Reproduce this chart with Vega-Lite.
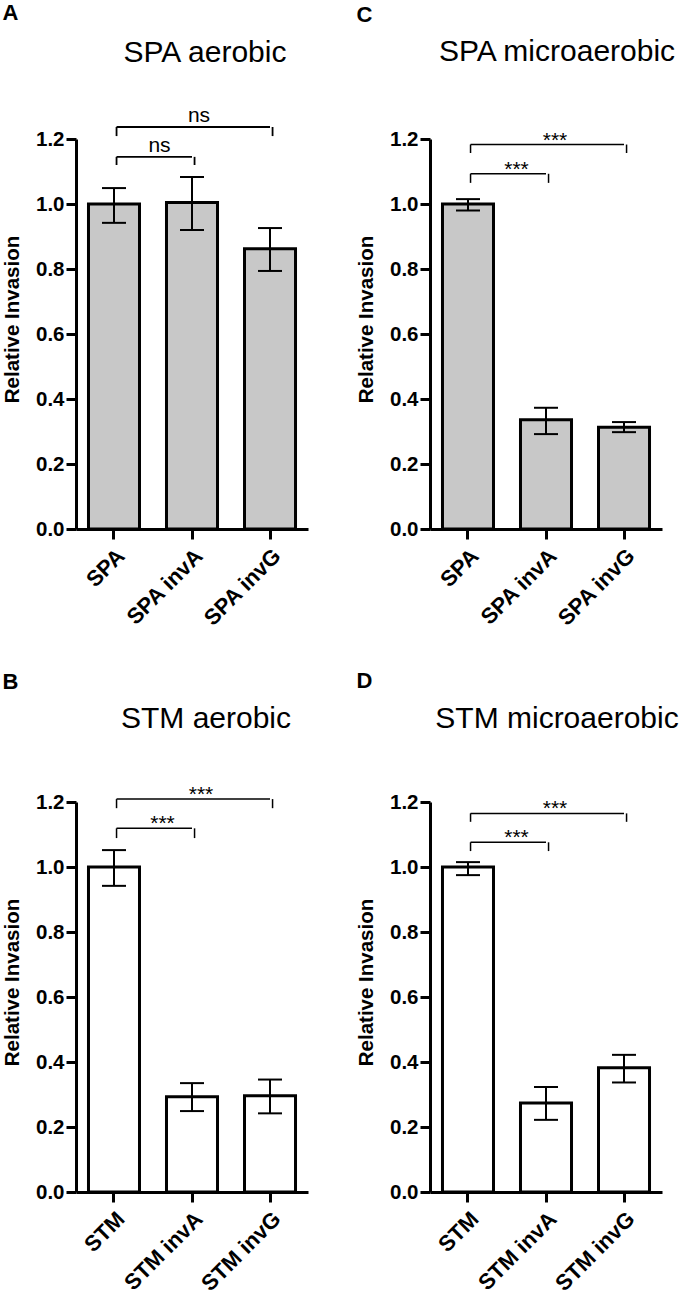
{
  "$schema": "https://vega.github.io/schema/vega-lite/v6.json",
  "padding": {"left": 2, "top": 1, "right": 0, "bottom": 0},
  "background": "white",
  "config": {
    "view": {"stroke": null},
    "font": "Liberation Sans",
    "axis": {"grid": false, "domainColor": "black", "domainWidth": 3, "tickColor": "black", "tickWidth": 3, "tickSize": 10, "labelColor": "black", "labelFont": "Liberation Sans", "labelFontWeight": "bold", "labelFontSize": 20.5, "titleColor": "black", "titleFont": "Liberation Sans", "titleFontWeight": "bold", "titleFontSize": 20.5},
    "axisX": {"labelFontSize": 22, "labelAngle": -45, "labelPadding": 6},
    "axisY": {"labelPadding": 2, "titlePadding": 13, "titleY": 180},
    "title": {"font": "Liberation Sans", "color": "black"}
  },
  "datasets": {
    "A": [
      {"strain": "SPA", "mean": 1.0, "lo": 0.942, "hi": 1.049},
      {"strain": "SPA invA", "mean": 1.005, "lo": 0.92, "hi": 1.083},
      {"strain": "SPA invG", "mean": 0.862, "lo": 0.794, "hi": 0.926}
    ],
    "A_br": [
      {"from": "SPA", "to": "SPA invA", "mid": "SPA invA", "y": 1.145, "yend": 1.12, "label": "ns", "pos": "low"},
      {"from": "SPA", "to": "SPA invG", "mid": "SPA invA", "y": 1.237, "yend": 1.209, "label": "ns", "pos": "high"}
    ],
    "C": [
      {"strain": "SPA", "mean": 1.0, "lo": 0.98, "hi": 1.015},
      {"strain": "SPA invA", "mean": 0.336, "lo": 0.292, "hi": 0.373},
      {"strain": "SPA invG", "mean": 0.313, "lo": 0.298, "hi": 0.329}
    ],
    "C_br": [
      {"from": "SPA", "to": "SPA invA", "mid": "SPA invA", "y": 1.093, "yend": 1.065, "label": "***", "pos": "low"},
      {"from": "SPA", "to": "SPA invG", "mid": "SPA invA", "y": 1.183, "yend": 1.157, "label": "***", "pos": "high"}
    ],
    "B": [
      {"strain": "STM", "mean": 1.0, "lo": 0.942, "hi": 1.052},
      {"strain": "STM invA", "mean": 0.293, "lo": 0.249, "hi": 0.335},
      {"strain": "STM invG", "mean": 0.296, "lo": 0.242, "hi": 0.346}
    ],
    "B_br": [
      {"from": "STM", "to": "STM invA", "mid": "STM invA", "y": 1.119, "yend": 1.089, "label": "***", "pos": "low"},
      {"from": "STM", "to": "STM invG", "mid": "STM invA", "y": 1.209, "yend": 1.181, "label": "***", "pos": "high"}
    ],
    "D": [
      {"strain": "STM", "mean": 1.0, "lo": 0.975, "hi": 1.015},
      {"strain": "STM invA", "mean": 0.274, "lo": 0.222, "hi": 0.323},
      {"strain": "STM invG", "mean": 0.382, "lo": 0.337, "hi": 0.422}
    ],
    "D_br": [
      {"from": "STM", "to": "STM invA", "mid": "STM invA", "y": 1.076, "yend": 1.049, "label": "***", "pos": "low"},
      {"from": "STM", "to": "STM invG", "mid": "STM invA", "y": 1.165, "yend": 1.139, "label": "***", "pos": "high"}
    ]
  },
  "vconcat": [
    {
      "hconcat": [
        {
          "title": {"text": "A", "anchor": "start", "fontSize": 22, "fontWeight": "bold", "offset": 13},
          "vconcat": [
            {
              "width": 232, "height": 390,
              "title": {"text": "SPA aerobic", "fontSize": 30, "fontWeight": "normal", "anchor": "middle", "frame": "group", "offset": 37, "dx": 13},
              "layer": [
                {"data": {"name": "A"}, "mark": {"type": "bar", "fill": "#c8c8c8", "stroke": "black", "strokeWidth": 3},
                 "encoding": {
                   "x": {"field": "strain", "type": "nominal", "sort": null, "title": null, "scale": {"paddingInner": 0.346, "paddingOuter": 0.16}},
                   "y": {"field": "mean", "type": "quantitative", "title": "Relative Invasion", "scale": {"domain": [0, 1.2], "nice": false}, "axis": {"values": [0, 0.2, 0.4, 0.6, 0.8, 1.0, 1.2], "format": ".1f"}}
                 }},
                {"data": {"name": "A"}, "mark": {"type": "rule", "color": "black", "strokeWidth": 2},
                 "encoding": {"x": {"field": "strain", "type": "nominal", "sort": null}, "y": {"field": "lo", "type": "quantitative"}, "y2": {"field": "hi"}}},
                {"data": {"name": "A"}, "mark": {"type": "tick", "color": "black", "size": 24, "thickness": 2, "opacity": 1},
                 "encoding": {"x": {"field": "strain", "type": "nominal", "sort": null}, "y": {"field": "lo", "type": "quantitative"}}},
                {"data": {"name": "A"}, "mark": {"type": "tick", "color": "black", "size": 24, "thickness": 2, "opacity": 1},
                 "encoding": {"x": {"field": "strain", "type": "nominal", "sort": null}, "y": {"field": "hi", "type": "quantitative"}}},
                {"data": {"name": "A_br"}, "mark": {"type": "rule", "color": "black", "strokeWidth": 1.8},
                 "encoding": {"x": {"field": "from", "type": "nominal", "sort": null, "bandPosition": 0.55}, "x2": {"field": "to"}, "y": {"field": "y", "type": "quantitative"}}},
                {"data": {"name": "A_br"}, "mark": {"type": "rule", "color": "black", "strokeWidth": 1.8},
                 "encoding": {"x": {"field": "from", "type": "nominal", "sort": null, "bandPosition": 0.55}, "y": {"field": "y", "type": "quantitative"}, "y2": {"field": "yend"}}},
                {"data": {"name": "A_br"}, "mark": {"type": "rule", "color": "black", "strokeWidth": 1.8},
                 "encoding": {"x": {"field": "to", "type": "nominal", "sort": null, "bandPosition": 0.55}, "y": {"field": "y", "type": "quantitative"}, "y2": {"field": "yend"}}},
                {"data": {"name": "A_br"}, "transform": [{"filter": "datum.pos === 'high'"}], "mark": {"type": "text", "fontSize": 21, "baseline": "alphabetic", "dy": -5, "dx": 7, "color": "black"},
                 "encoding": {"x": {"field": "mid", "type": "nominal", "sort": null, "bandPosition": 0.5}, "y": {"field": "y", "type": "quantitative"}, "text": {"field": "label"}}},
                {"data": {"name": "A_br"}, "transform": [{"filter": "datum.pos === 'low'"}], "mark": {"type": "text", "fontSize": 21, "baseline": "alphabetic", "dy": -5, "dx": -7, "color": "black"},
                 "encoding": {"x": {"field": "mid", "type": "nominal", "sort": null, "bandPosition": 0}, "y": {"field": "y", "type": "quantitative"}, "text": {"field": "label"}}}
              ]
            }
          ]
        },
        {
          "title": {"text": "C", "anchor": "start", "fontSize": 22, "fontWeight": "bold", "offset": 10},
          "vconcat": [
            {
              "width": 232, "height": 390,
              "title": {"text": "SPA microaerobic", "fontSize": 30, "fontWeight": "normal", "anchor": "middle", "frame": "group", "offset": 62, "dx": 11},
              "layer": [
                {"data": {"name": "C"}, "mark": {"type": "bar", "fill": "#c8c8c8", "stroke": "black", "strokeWidth": 3},
                 "encoding": {
                   "x": {"field": "strain", "type": "nominal", "sort": null, "title": null, "scale": {"paddingInner": 0.346, "paddingOuter": 0.16}},
                   "y": {"field": "mean", "type": "quantitative", "title": "Relative Invasion", "scale": {"domain": [0, 1.2], "nice": false}, "axis": {"values": [0, 0.2, 0.4, 0.6, 0.8, 1.0, 1.2], "format": ".1f"}}
                 }},
                {"data": {"name": "C"}, "mark": {"type": "rule", "color": "black", "strokeWidth": 2},
                 "encoding": {"x": {"field": "strain", "type": "nominal", "sort": null}, "y": {"field": "lo", "type": "quantitative"}, "y2": {"field": "hi"}}},
                {"data": {"name": "C"}, "mark": {"type": "tick", "color": "black", "size": 24, "thickness": 2, "opacity": 1},
                 "encoding": {"x": {"field": "strain", "type": "nominal", "sort": null}, "y": {"field": "lo", "type": "quantitative"}}},
                {"data": {"name": "C"}, "mark": {"type": "tick", "color": "black", "size": 24, "thickness": 2, "opacity": 1},
                 "encoding": {"x": {"field": "strain", "type": "nominal", "sort": null}, "y": {"field": "hi", "type": "quantitative"}}},
                {"data": {"name": "C_br"}, "mark": {"type": "rule", "color": "black", "strokeWidth": 1.5},
                 "encoding": {"x": {"field": "from", "type": "nominal", "sort": null, "bandPosition": 0.55}, "x2": {"field": "to"}, "y": {"field": "y", "type": "quantitative"}}},
                {"data": {"name": "C_br"}, "mark": {"type": "rule", "color": "black", "strokeWidth": 1.5},
                 "encoding": {"x": {"field": "from", "type": "nominal", "sort": null, "bandPosition": 0.55}, "y": {"field": "y", "type": "quantitative"}, "y2": {"field": "yend"}}},
                {"data": {"name": "C_br"}, "mark": {"type": "rule", "color": "black", "strokeWidth": 1.5},
                 "encoding": {"x": {"field": "to", "type": "nominal", "sort": null, "bandPosition": 0.55}, "y": {"field": "y", "type": "quantitative"}, "y2": {"field": "yend"}}},
                {"data": {"name": "C_br"}, "transform": [{"filter": "datum.pos === 'high'"}], "mark": {"type": "text", "fontSize": 21, "baseline": "alphabetic", "dy": 2, "dx": 9, "color": "black"},
                 "encoding": {"x": {"field": "mid", "type": "nominal", "sort": null, "bandPosition": 0.5}, "y": {"field": "y", "type": "quantitative"}, "text": {"field": "label"}}},
                {"data": {"name": "C_br"}, "transform": [{"filter": "datum.pos === 'low'"}], "mark": {"type": "text", "fontSize": 21, "baseline": "alphabetic", "dy": 2, "dx": -4, "color": "black"},
                 "encoding": {"x": {"field": "mid", "type": "nominal", "sort": null, "bandPosition": 0}, "y": {"field": "y", "type": "quantitative"}, "text": {"field": "label"}}}
              ]
            }
          ]
        }
      ],
      "spacing": 48
    },
    {
      "hconcat": [
        {
          "title": {"text": "B", "anchor": "start", "fontSize": 22, "fontWeight": "bold", "offset": 10},
          "vconcat": [
            {
              "width": 232, "height": 390,
              "title": {"text": "STM aerobic", "fontSize": 30, "fontWeight": "normal", "anchor": "middle", "frame": "group", "offset": 50, "dx": 14},
              "layer": [
                {"data": {"name": "B"}, "mark": {"type": "bar", "fill": "white", "stroke": "black", "strokeWidth": 3},
                 "encoding": {
                   "x": {"field": "strain", "type": "nominal", "sort": null, "title": null, "scale": {"paddingInner": 0.346, "paddingOuter": 0.16}},
                   "y": {"field": "mean", "type": "quantitative", "title": "Relative Invasion", "scale": {"domain": [0, 1.2], "nice": false}, "axis": {"values": [0, 0.2, 0.4, 0.6, 0.8, 1.0, 1.2], "format": ".1f"}}
                 }},
                {"data": {"name": "B"}, "mark": {"type": "rule", "color": "black", "strokeWidth": 2},
                 "encoding": {"x": {"field": "strain", "type": "nominal", "sort": null}, "y": {"field": "lo", "type": "quantitative"}, "y2": {"field": "hi"}}},
                {"data": {"name": "B"}, "mark": {"type": "tick", "color": "black", "size": 24, "thickness": 2, "opacity": 1},
                 "encoding": {"x": {"field": "strain", "type": "nominal", "sort": null}, "y": {"field": "lo", "type": "quantitative"}}},
                {"data": {"name": "B"}, "mark": {"type": "tick", "color": "black", "size": 24, "thickness": 2, "opacity": 1},
                 "encoding": {"x": {"field": "strain", "type": "nominal", "sort": null}, "y": {"field": "hi", "type": "quantitative"}}},
                {"data": {"name": "B_br"}, "mark": {"type": "rule", "color": "black", "strokeWidth": 1.5},
                 "encoding": {"x": {"field": "from", "type": "nominal", "sort": null, "bandPosition": 0.55}, "x2": {"field": "to"}, "y": {"field": "y", "type": "quantitative"}}},
                {"data": {"name": "B_br"}, "mark": {"type": "rule", "color": "black", "strokeWidth": 1.5},
                 "encoding": {"x": {"field": "from", "type": "nominal", "sort": null, "bandPosition": 0.55}, "y": {"field": "y", "type": "quantitative"}, "y2": {"field": "yend"}}},
                {"data": {"name": "B_br"}, "mark": {"type": "rule", "color": "black", "strokeWidth": 1.5},
                 "encoding": {"x": {"field": "to", "type": "nominal", "sort": null, "bandPosition": 0.55}, "y": {"field": "y", "type": "quantitative"}, "y2": {"field": "yend"}}},
                {"data": {"name": "B_br"}, "transform": [{"filter": "datum.pos === 'high'"}], "mark": {"type": "text", "fontSize": 21, "baseline": "alphabetic", "dy": 2, "dx": 9, "color": "black"},
                 "encoding": {"x": {"field": "mid", "type": "nominal", "sort": null, "bandPosition": 0.5}, "y": {"field": "y", "type": "quantitative"}, "text": {"field": "label"}}},
                {"data": {"name": "B_br"}, "transform": [{"filter": "datum.pos === 'low'"}], "mark": {"type": "text", "fontSize": 21, "baseline": "alphabetic", "dy": 2, "dx": -4, "color": "black"},
                 "encoding": {"x": {"field": "mid", "type": "nominal", "sort": null, "bandPosition": 0}, "y": {"field": "y", "type": "quantitative"}, "text": {"field": "label"}}}
              ]
            }
          ]
        },
        {
          "title": {"text": "D", "anchor": "start", "fontSize": 22, "fontWeight": "bold", "offset": 11},
          "vconcat": [
            {
              "width": 232, "height": 390,
              "title": {"text": "STM microaerobic", "fontSize": 30, "fontWeight": "normal", "anchor": "middle", "frame": "group", "offset": 58, "dx": 11},
              "layer": [
                {"data": {"name": "D"}, "mark": {"type": "bar", "fill": "white", "stroke": "black", "strokeWidth": 3},
                 "encoding": {
                   "x": {"field": "strain", "type": "nominal", "sort": null, "title": null, "scale": {"paddingInner": 0.346, "paddingOuter": 0.16}},
                   "y": {"field": "mean", "type": "quantitative", "title": "Relative Invasion", "scale": {"domain": [0, 1.2], "nice": false}, "axis": {"values": [0, 0.2, 0.4, 0.6, 0.8, 1.0, 1.2], "format": ".1f"}}
                 }},
                {"data": {"name": "D"}, "mark": {"type": "rule", "color": "black", "strokeWidth": 2},
                 "encoding": {"x": {"field": "strain", "type": "nominal", "sort": null}, "y": {"field": "lo", "type": "quantitative"}, "y2": {"field": "hi"}}},
                {"data": {"name": "D"}, "mark": {"type": "tick", "color": "black", "size": 24, "thickness": 2, "opacity": 1},
                 "encoding": {"x": {"field": "strain", "type": "nominal", "sort": null}, "y": {"field": "lo", "type": "quantitative"}}},
                {"data": {"name": "D"}, "mark": {"type": "tick", "color": "black", "size": 24, "thickness": 2, "opacity": 1},
                 "encoding": {"x": {"field": "strain", "type": "nominal", "sort": null}, "y": {"field": "hi", "type": "quantitative"}}},
                {"data": {"name": "D_br"}, "mark": {"type": "rule", "color": "black", "strokeWidth": 1.5},
                 "encoding": {"x": {"field": "from", "type": "nominal", "sort": null, "bandPosition": 0.55}, "x2": {"field": "to"}, "y": {"field": "y", "type": "quantitative"}}},
                {"data": {"name": "D_br"}, "mark": {"type": "rule", "color": "black", "strokeWidth": 1.5},
                 "encoding": {"x": {"field": "from", "type": "nominal", "sort": null, "bandPosition": 0.55}, "y": {"field": "y", "type": "quantitative"}, "y2": {"field": "yend"}}},
                {"data": {"name": "D_br"}, "mark": {"type": "rule", "color": "black", "strokeWidth": 1.5},
                 "encoding": {"x": {"field": "to", "type": "nominal", "sort": null, "bandPosition": 0.55}, "y": {"field": "y", "type": "quantitative"}, "y2": {"field": "yend"}}},
                {"data": {"name": "D_br"}, "transform": [{"filter": "datum.pos === 'high'"}], "mark": {"type": "text", "fontSize": 21, "baseline": "alphabetic", "dy": 2, "dx": 9, "color": "black"},
                 "encoding": {"x": {"field": "mid", "type": "nominal", "sort": null, "bandPosition": 0.5}, "y": {"field": "y", "type": "quantitative"}, "text": {"field": "label"}}},
                {"data": {"name": "D_br"}, "transform": [{"filter": "datum.pos === 'low'"}], "mark": {"type": "text", "fontSize": 21, "baseline": "alphabetic", "dy": 2, "dx": -4, "color": "black"},
                 "encoding": {"x": {"field": "mid", "type": "nominal", "sort": null, "bandPosition": 0}, "y": {"field": "y", "type": "quantitative"}, "text": {"field": "label"}}}
              ]
            }
          ]
        }
      ],
      "spacing": 48
    }
  ],
  "spacing": 40
}
